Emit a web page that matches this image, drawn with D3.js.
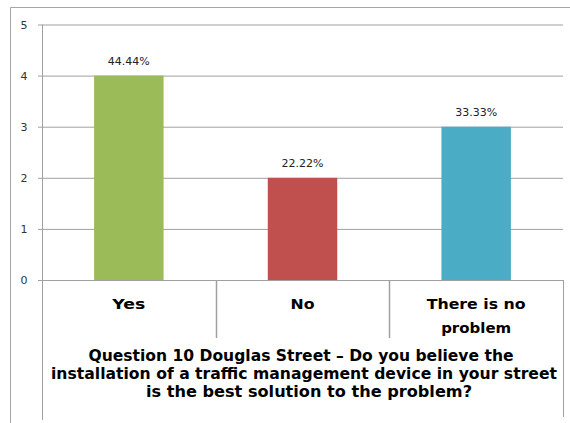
<!DOCTYPE html>
<html><head><meta charset="utf-8">
<script src="https://cdn.jsdelivr.net/npm/d3@7"></script>
<style>body{margin:0;background:#fff}svg{display:block}</style>
</head><body>
<svg id="c" width="570" height="423"></svg>
<script>
const categories = ["Yes", "No", "There is no|problem"];
const values = [4, 2, 3];
const dataLabels = ["44.44%", "22.22%", "33.33%"];
const colors = ["#9BBB59", "#C0504D", "#4BACC6"];
const yTicks = [0, 1, 2, 3, 4, 5];
const titleLines = ["Question 10 Douglas Street  \u2013 Do you believe the",
  "installation of a traffic management device in your street",
  "is the best solution to the problem?"];

const svg = d3.select("#c");
const L = 42, R = 563, T = 24.5, B = 280;
const x = d3.scaleBand().domain(categories).range([L, R]).paddingInner(0.6).paddingOuter(0.3);
const y = d3.scaleLinear().domain([0, 5]).range([B, T]);

// outer border
svg.append("line").attr("x1", 10.5).attr("x2", 570).attr("y1", 7.5).attr("y2", 7.5).attr("stroke", "#a6a6a6");
svg.append("line").attr("x1", 10.5).attr("x2", 10.5).attr("y1", 7.5).attr("y2", 423).attr("stroke", "#a6a6a6");

// gridlines
const yAxis = d3.axisLeft(y).tickValues(yTicks).tickSize(-(R - L)).tickPadding(12).tickFormat(d3.format("d"));
const g = svg.append("g").attr("transform", `translate(${L},0)`).call(yAxis);
g.select(".domain").remove();
g.selectAll(".tick line").attr("stroke", "#a0a0a0").attr("x1", -4);
g.selectAll(".tick text").attr("fill", "#333").attr("font-family", "DejaVu Sans, sans-serif").attr("font-size", 11).attr("text-anchor", "middle").attr("x", -18);

// axis lines
svg.append("line").attr("x1", L + 0.5).attr("x2", L + 0.5).attr("y1", T).attr("y2", 420).attr("stroke", "#a0a0a0");
svg.append("line").attr("x1", R + 0.5).attr("x2", R + 0.5).attr("y1", B).attr("y2", 417).attr("stroke", "#a0a0a0");
svg.append("line").attr("x1", L).attr("x2", R).attr("y1", B + 0.5).attr("y2", B + 0.5).attr("stroke", "#a0a0a0");
// category separators
categories.slice(1).forEach(c => {
  const xx = Math.round(x(c) - x.step() * x.paddingInner() / 2) + 0.5;
  svg.append("line").attr("x1", xx).attr("x2", xx).attr("y1", B).attr("y2", 338).attr("stroke", "#a0a0a0").attr("stroke-width", 1.5);
});

// bars
svg.selectAll("rect.bar").data(categories).join("rect")
  .attr("x", d => x(d)).attr("width", x.bandwidth())
  .attr("y", (d, i) => y(values[i])).attr("height", (d, i) => B - y(values[i]))
  .attr("fill", (d, i) => colors[i]);

// data labels
svg.selectAll("text.dl").data(categories).join("text")
  .attr("x", d => x(d) + x.bandwidth() / 2).attr("y", (d, i) => y(values[i]) - 11)
  .attr("text-anchor", "middle").attr("font-family", "DejaVu Sans, sans-serif").attr("font-size", 11).attr("fill", "#222")
  .text((d, i) => dataLabels[i]);

// category labels
const catWidths = {"Yes": 33, "No": 24, "There is no": 99, "problem": 70};
categories.forEach(c => {
  const parts = c.split("|");
  parts.forEach((p, i) => svg.append("text").attr("text-anchor", "middle").attr("font-family", "DejaVu Sans, sans-serif")
    .attr("font-weight", "bold").attr("font-size", 14).attr("fill", "#000")
    .attr("x", x(c) + x.bandwidth() / 2).attr("y", 309 + i * 24)
    .attr("textLength", catWidths[p]).attr("lengthAdjust", "spacingAndGlyphs").text(p));
});

// title
const titleWidths = [425, 506, 326];
const titleX = [301, 304, 309];
titleLines.forEach((l, i) => svg.append("text").attr("text-anchor", "middle").attr("font-family", "DejaVu Sans, sans-serif")
  .attr("font-weight", "bold").attr("font-size", 15.5).attr("fill", "#000")
  .attr("x", titleX[i]).attr("y", 361 + i * 18)
  .attr("textLength", titleWidths[i]).attr("lengthAdjust", "spacingAndGlyphs").text(l));
</script>
</body></html>
